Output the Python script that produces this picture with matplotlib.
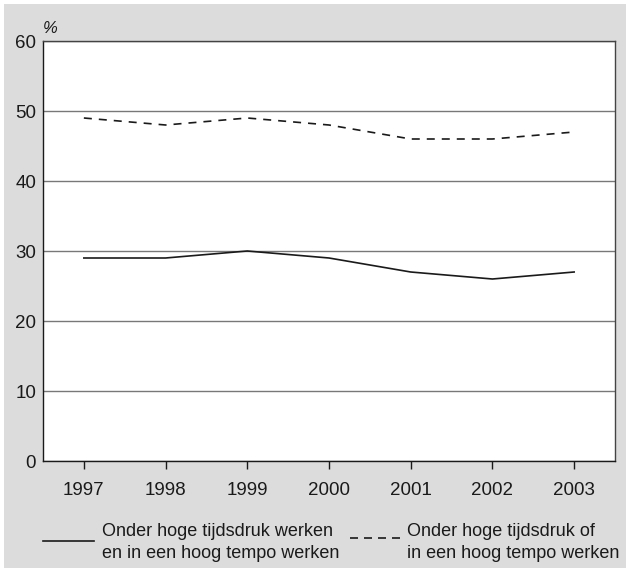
import matplotlib.pyplot as plt
from matplotlib.lines import Line2D
from matplotlib.patches import Rectangle

plt.rcParams['font.family'] = ['Liberation Sans', 'DejaVu Sans']

# data
jaren = [1997, 1998, 1999, 2000, 2001, 2002, 2003]
en_tempo = [29, 29, 30, 29, 27, 26, 27]
of_tempo = [49, 48, 49, 48, 46, 46, 47]
lbl_en = ["Onder hoge tijdsdruk werken", "en in een hoog tempo werken"]
lbl_of = ["Onder hoge tijdsdruk of", "in een hoog tempo werken"]

grijs = '#dcdcdc'
zwart = '#1a1a1a'
fig = plt.figure(figsize=(6.26, 5.68), dpi=100)
fig.patch.set_facecolor('white')
fig.patches.append(Rectangle((4/626, 0), 1, 1 - 4/568, transform=fig.transFigure,
                             facecolor=grijs, edgecolor='none', zorder=-1))

ax = fig.add_axes([43/626, 1 - 461/568, 572/626, 420/568])
ax.set_facecolor('white')
ax.plot(jaren, en_tempo, color=zwart, lw=1.2, zorder=3)
ax.plot(jaren, of_tempo, color=zwart, lw=1.2, dashes=(4.8, 4.2), zorder=3)

ax.set_xlim(1996.5, 2003.5)
ax.set_ylim(0, 60)
ax.set_xticks(jaren)
ax.set_yticks(range(0, 61, 10))
ax.yaxis.grid(True, color='#787878', lw=1)
ax.set_axisbelow(True)
ax.tick_params(axis='y', length=0, pad=5, labelsize=13.5, colors=zwart)
ax.tick_params(axis='x', length=6, width=1, pad=9, labelsize=13.5,
               color=zwart, labelcolor=zwart)
for s in ax.spines.values():
    s.set_color('#444444')
    s.set_linewidth(1)
ax.spines['left'].set_color(zwart)
ax.spines['bottom'].set_color(zwart)

ax.text(0.0, 1.012, '%', transform=ax.transAxes, fontsize=12,
        style='italic', ha='left', va='bottom', color=zwart)

# legenda
fig.add_artist(Line2D([43/626, 94/626], [1 - 541/568] * 2, color=zwart, lw=1.2))
fig.add_artist(Line2D([350/626, 402/626], [1 - 538/568] * 2, color=zwart, lw=1.2,
                      dashes=(4.8, 3.6)))
for i, (a, b) in enumerate(zip(lbl_en, lbl_of)):
    yb = 1 - (536 + 22 * i) / 568
    fig.text(102/626, yb, a, fontsize=13, va='baseline', ha='left', color=zwart)
    fig.text(407/626, yb, b, fontsize=13, va='baseline', ha='left', color=zwart)

fig.savefig('out.png', dpi=100, facecolor=fig.get_facecolor())
